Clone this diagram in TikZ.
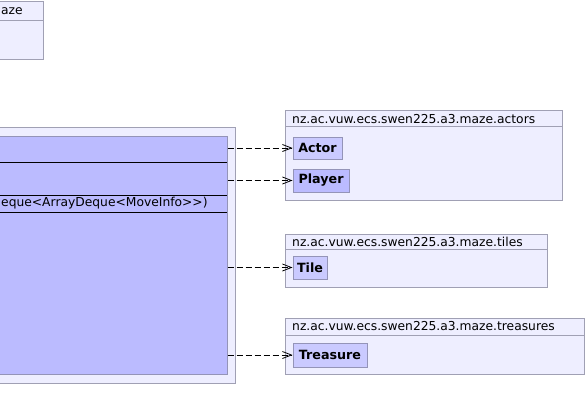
\documentclass[tikz,border=0pt]{standalone}
\usepackage{fontspec}
\setmainfont{DejaVu Sans}
\usetikzlibrary{arrows.meta}
\definecolor{pkgfill}{HTML}{EEEEFF}
\definecolor{pkgline}{HTML}{A0A0B4}
\definecolor{clsfill}{HTML}{BBBBFF}
\definecolor{clsfillL}{HTML}{CACAFF}
\definecolor{clsline}{HTML}{9494B8}
\tikzset{
  pkgbox/.style={fill=pkgfill,draw=pkgline,line width=1pt},
  pkgrule/.style={draw=pkgline,line width=1pt},
  pkgtitle/.style={anchor=west,inner sep=0pt,font=\fontsize{12.3}{14}\selectfont},
  clsbox/.style={draw=clsline,line width=1pt,inner sep=0pt,minimum height=23pt,font=\fontsize{12.7}{14}\bfseries\selectfont},
  dep/.style={line width=0.8pt,dash pattern=on 6pt off 3pt,-{Straight Barb[length=9pt,width=7pt]}}
}
\begin{document}
\begin{tikzpicture}[x=1pt,y=-1pt]
\useasboundingbox (0,0) rectangle (587,420);
\clip (0,0) rectangle (587,420);
% top-left package (clipped)
\draw[pkgbox] (-10,2) rectangle (43,60);
\draw[pkgrule] (-10,21) -- (43,21);
\node[pkgtitle] (mazetitle) at (1,11.5) {aze};
% main package and class
\draw[pkgbox] (-10,128) rectangle (235,383);
\node[draw=clsline,fill=clsfill,line width=1pt,minimum width=237pt,minimum height=238pt,inner sep=0pt] (main) at (108.5,255) {};
\draw[line width=1pt] (-10,162) -- (227,162);
\draw[line width=1pt] (-10,195) -- (227,195);
\draw[line width=1pt] (-10,212) -- (227,212);
\node[anchor=west,inner sep=0pt,font=\fontsize{12.3}{14}\selectfont] (sig) at (1,203.5) {eque<ArrayDeque<MoveInfo>{}>)};
% actors package
\draw[pkgbox] (285,111) rectangle (562,200);
\draw[pkgrule] (285,127) -- (562,127);
\node[pkgtitle] (actorsT) at (292,119) {nz.ac.vuw.ecs.swen225.a3.maze.actors};
\node[clsbox,fill=clsfillL,minimum width=49pt,minimum height=22pt] (actor) at (317.5,148) {Actor};
\node[clsbox,fill=clsfill,minimum width=56pt] (player) at (321,180.5) {Player};
% tiles package
\draw[pkgbox] (285,234) rectangle (547,287);
\draw[pkgrule] (285,249) -- (547,249);
\node[pkgtitle] (tilesT) at (292,241.5) {nz.ac.vuw.ecs.swen225.a3.maze.tiles};
\node[clsbox,fill=clsfillL,minimum width=34pt] (tile) at (310,267.5) {Tile};
% treasures package
\draw[pkgbox] (285,318) rectangle (584,374);
\draw[pkgrule] (285,335) -- (584,335);
\node[pkgtitle] (treasT) at (292,326.5) {nz.ac.vuw.ecs.swen225.a3.maze.treasures};
\node[clsbox,fill=clsfillL,minimum width=74pt,minimum height=24pt] (treasure) at (330,355) {Treasure};
% dependencies
\draw[dep] (actor -| main.east) -- (actor.west);
\draw[dep] (player -| main.east) -- (player.west);
\draw[dep] (tile -| main.east) -- (tile.west);
\draw[dep] (treasure -| main.east) -- (treasure.west);
\end{tikzpicture}
\end{document}
